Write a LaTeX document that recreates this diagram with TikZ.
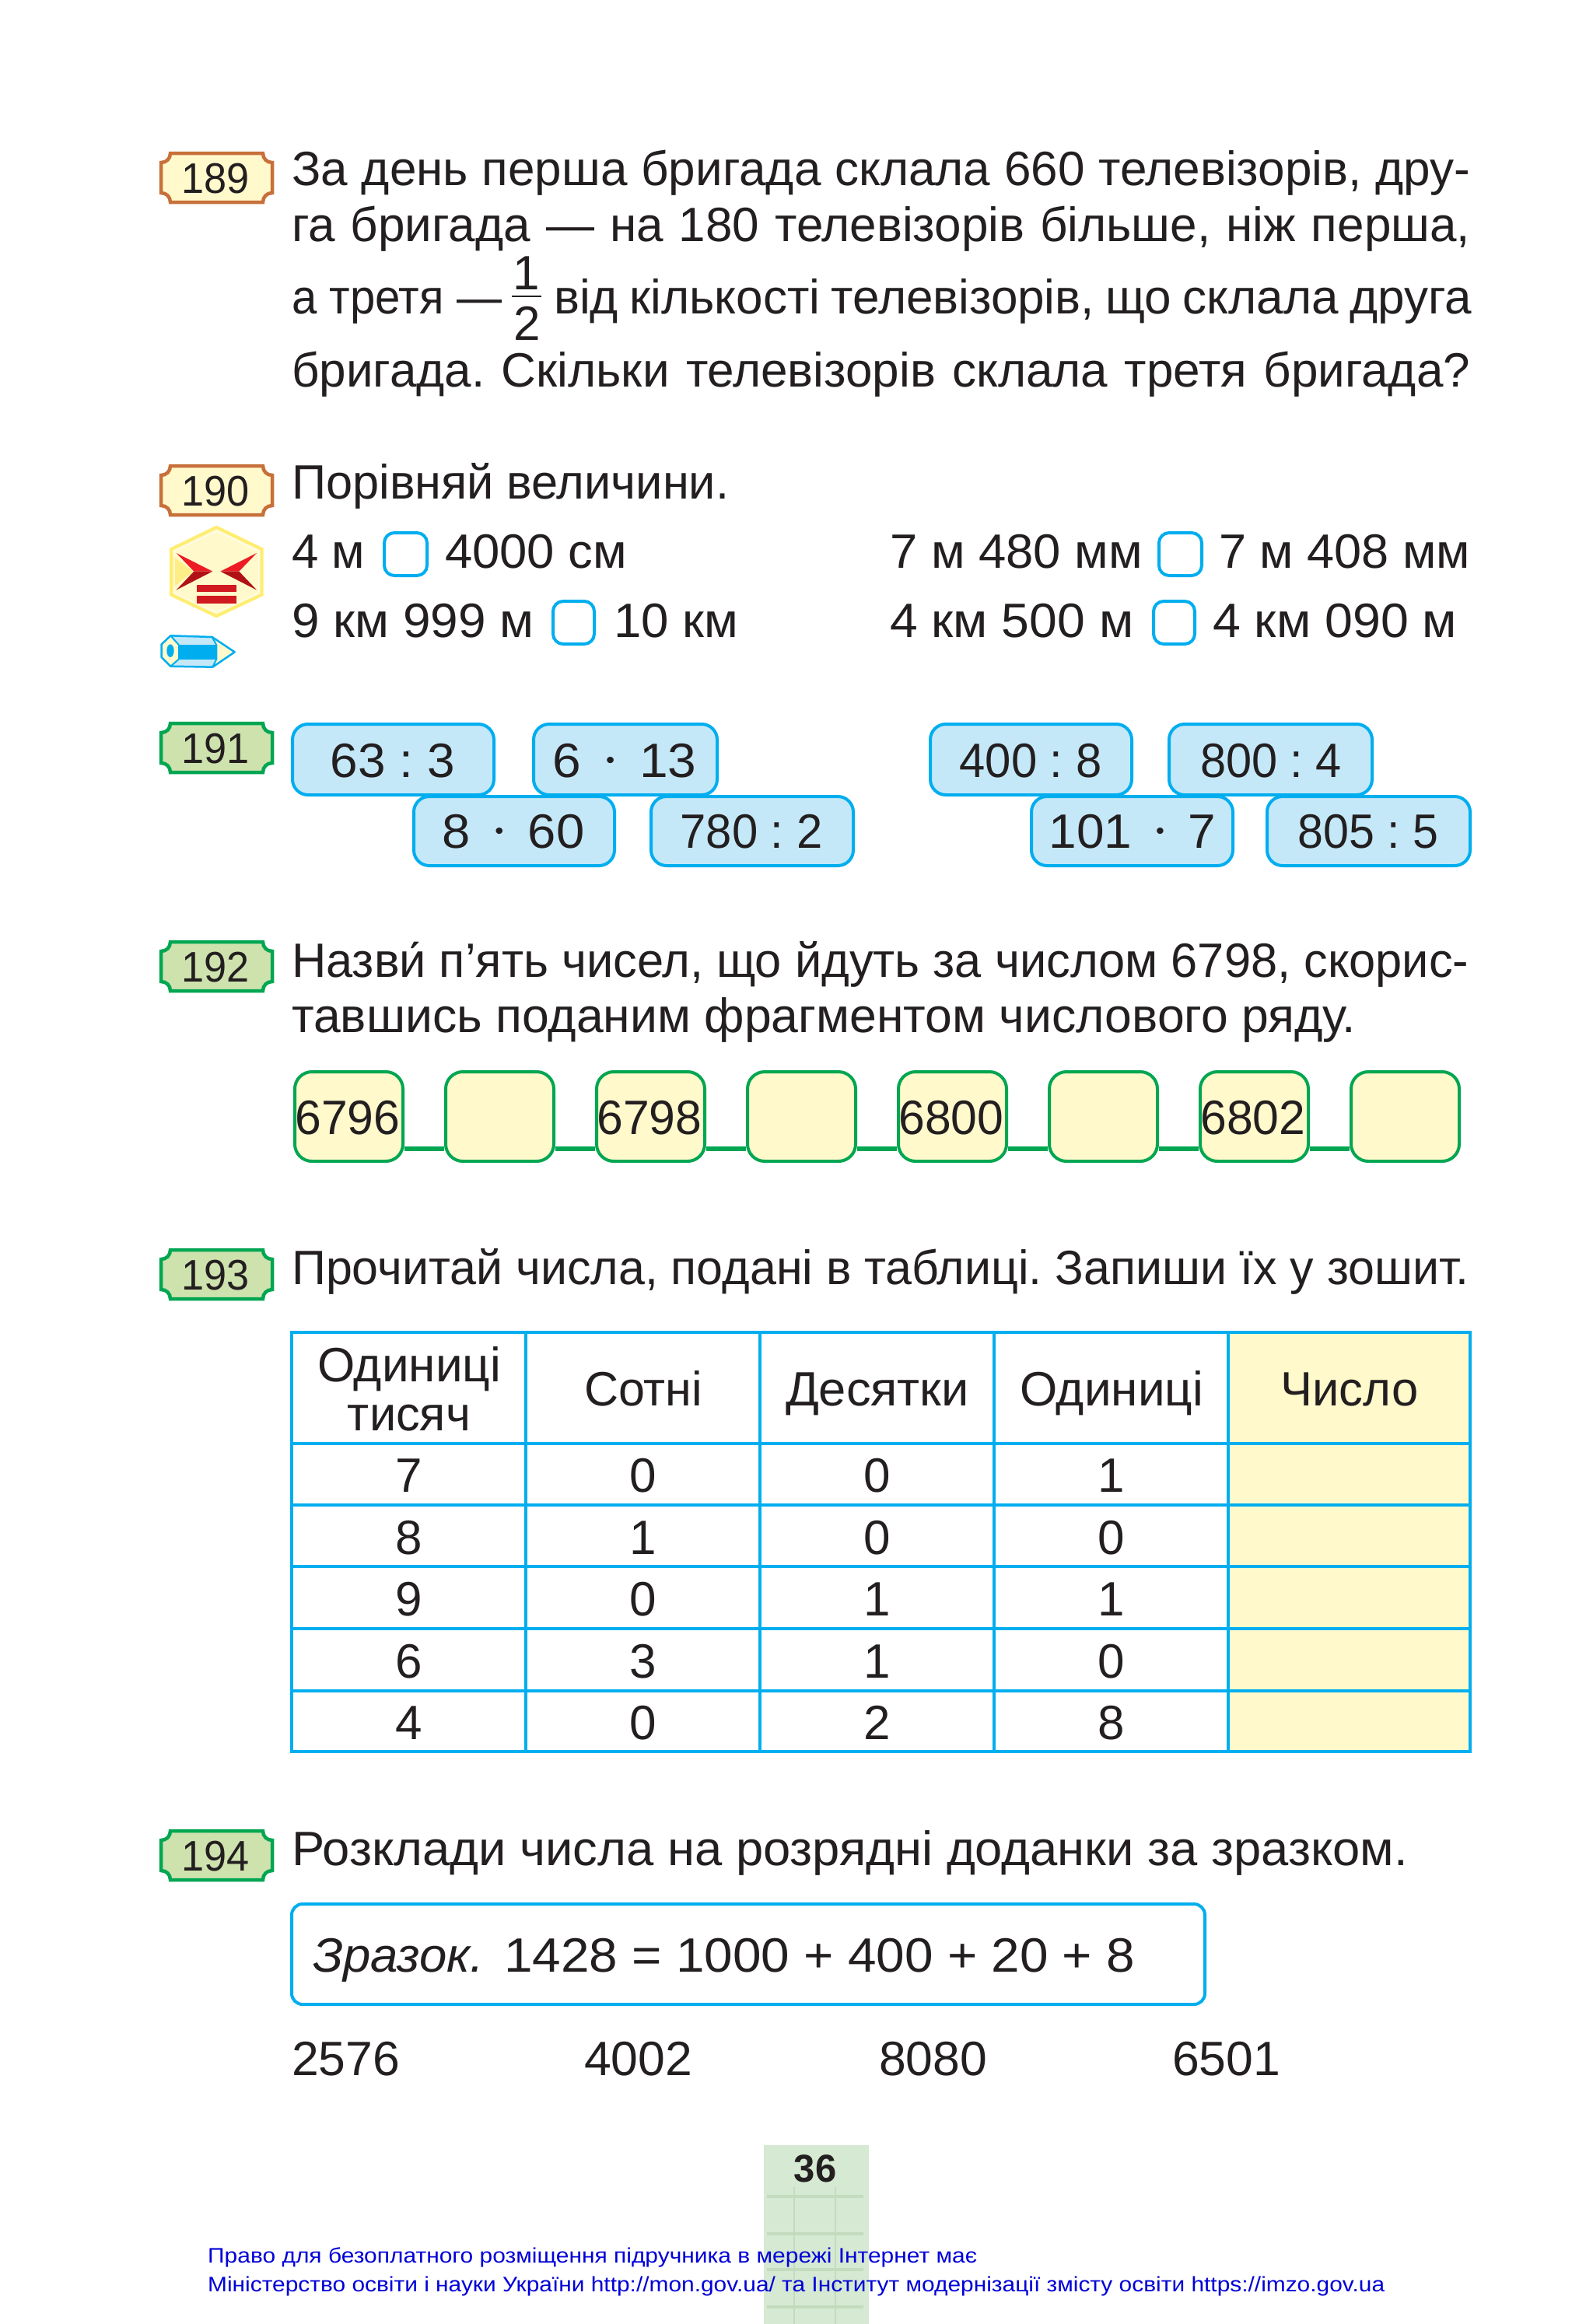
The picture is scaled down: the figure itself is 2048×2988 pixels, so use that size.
\documentclass[tikz,border=0pt]{standalone}
\usepackage{fontspec}
\usepackage{graphicx}
\setmainfont{Liberation Sans}
\frenchspacing
\definecolor{ink}{HTML}{231F20}
\definecolor{sky}{HTML}{00AEEF}
\definecolor{skyfill}{HTML}{C5E8F8}
\definecolor{paleyel}{HTML}{FFF9CC}
\definecolor{hexline}{HTML}{FFED70}
\definecolor{hexin}{HTML}{FFEE88}
\definecolor{redhi}{HTML}{ED1C24}
\definecolor{redlo}{HTML}{B01116}
\definecolor{redbar}{HTML}{D11920}
\definecolor{orng}{HTML}{C8703A}
\definecolor{grn}{HTML}{00A651}
\definecolor{grnfill}{HTML}{CEE2AE}
\definecolor{strip}{HTML}{D6E9D2}
\definecolor{stripline}{HTML}{C4DBBE}
\definecolor{linkblue}{HTML}{0000D8}
\newcommand\bodyfont{\fontsize{62}{70}\selectfont}
\newcommand\smallbody{\fontsize{27}{30}\selectfont}
% text fitted to a width
\newcommand\wt[2]{\resizebox{#1pt}{\height}{#2}}
\newcommand\jt[2]{\makebox[#1pt][s]{#2}}
\newcommand\T[5]{\node[txt] (#1) at (#2,#3) {\wt{#4}{#5}};}
\newcommand\J[5]{\node[txt] (#1) at (#2,#3) {\jt{#4}{#5}};}
\newcommand\C[4]{\node[ctxt] (#1) at (#2,#3) {#4};}
\newcommand\CW[5]{\node[ctxt] (#1) at (#2,#3) {\wt{#4}{#5}};}
\newcommand\dotb{\hspace{30pt}\raisebox{12pt}{\fontsize{30}{30}\selectfont •}\hspace{30pt}}
% badge: name, top y, border, fill, text
\newcommand\badge[5]{%
 \begin{scope}[shift={(207,#2+2)}]
 \draw[line width=4.5pt,draw=#3,fill=#4]
  (12,0) -- (131,0) .. controls (131,7) and (136,12) .. (143,12)
  -- (143,51) .. controls (136,51) and (131,56) .. (131,63)
  -- (12,63) .. controls (12,56) and (7,51) .. (0,51)
  -- (0,12) .. controls (7,12) and (12,7) .. (12,0) -- cycle;
 \node[ctxt,font=\fontsize{55}{55}\selectfont] (#1) at (70,51.5) {\scalebox{.95}[1]{#5}};
 \end{scope}}
\tikzset{
 txt/.style={anchor=base west,inner sep=0pt,font=\bodyfont,text=ink},
 ctxt/.style={anchor=base,inner sep=0pt,font=\bodyfont,text=ink},
 pill/.style={line width=4pt,draw=sky,fill=skyfill,rounded corners=20pt},
 qbox/.style={line width=4pt,draw=sky,fill=white,rounded corners=13pt},
 chainbox/.style={rectangle,line width=4pt,draw=grn,fill=paleyel,rounded corners=22pt,
   minimum width=139pt,minimum height=115pt,inner sep=0pt,anchor=north west},
 chainlink/.style={line width=6pt,draw=grn},
 grid/.style={line width=3.5pt,draw=sky},
 footnote/.style={anchor=base west,inner sep=0pt,font=\smallbody,text=linkblue},
}
\begin{document}
\begin{tikzpicture}[x=1pt,y=-1pt]
\fill[white] (0,0) rectangle (2048,2988);
\useasboundingbox (0,0) rectangle (2048,2988);

% ---------- 189
\badge{b189}{195}{orng}{paleyel}{189}
\J{l1a}{375}{238}{1515}{За день перша бригада склала 660 телевізорів, дру-}
\J{l1b}{375}{310}{1515}{га бригада — на 180 телевізорів більше, ніж перша,}
\T{l1c}{375}{403}{270}{а третя —}
\C{fn}{677}{372}{1}
\draw[line width=2.5pt,draw=ink] (658,381) -- (696,381);
\C{fd}{678}{437}{2}
\J{l1d}{712}{403}{1180}{від кількості телевізорів, що склала друга}
\J{l1e}{375}{497}{1515}{бригада. Скільки телевізорів склала третя бригада?}

% ---------- 190
\badge{b190}{597}{orng}{paleyel}{190}
\T{l2a}{375}{641}{562}{Порівняй величини.}
\T{c1}{375}{730}{94}{4 м}
\draw[qbox] (494,685) rectangle (549,740);
\T{c2}{572}{730}{234}{4000 см}
\T{c3}{1144}{730}{325}{7 м 480 мм}
\draw[qbox] (1490,685) rectangle (1545,740);
\T{c4}{1567}{730}{323}{7 м 408 мм}
\T{c5}{375}{819}{311}{9 км 999 м}
\draw[qbox] (711,773) rectangle (764,828);
\T{c6}{789}{819}{160}{10 км}
\T{c7}{1144}{819}{313}{4 км 500 м}
\draw[qbox] (1483,773) rectangle (1536,828);
\T{c8}{1559}{819}{314}{4 км 090 м}

% hexagon icon
\begin{scope}[shift={(180,580)},xscale=1/3,yscale=1/2.8]
 \draw[line width=4pt,draw=hexline,fill=paleyel]
  (295,274) -- (470,353) -- (470,517) -- (295,594) -- (120,517) -- (120,353) -- cycle;
 \fill[hexin] (130,380) -- (205,433) -- (130,490) -- cycle;
 \draw[line width=1pt,draw=white!70!paleyel] (295,288) -- (458,360) -- (458,510) -- (295,582) -- (132,510) -- (132,360) -- cycle;
 \fill[redhi] (140,367) -- (280,433) -- (208,433) -- cycle;
 \fill[redlo] (140,500) -- (280,433) -- (208,433) -- cycle;
 \fill[redhi] (450,367) -- (310,433) -- (382,433) -- cycle;
 \fill[redlo] (450,500) -- (310,433) -- (382,433) -- cycle;
 \fill[redbar] (218,482) rectangle (373,508);
 \fill[redbar] (218,522) rectangle (373,548);
\end{scope}
% pencil icon
\begin{scope}[shift={(190,790)},scale=1/3]
 \fill[paleyel] (53,115) -- (88,82) -- (120,118) -- (120,172) -- (88,200) -- (53,165) -- cycle;
 \fill[skyfill] (88,82) -- (248,87) -- (265,118) -- (120,118) -- cycle;
 \fill[skyfill] (88,200) -- (250,203) -- (265,172) -- (120,172) -- cycle;
 \fill[sky] (120,116) rectangle (265,174);
 \fill[paleyel] (248,87) -- (335,145) -- (250,203) -- (265,172) -- (265,118) -- cycle;
 \draw[line width=2.5pt,draw=sky,line join=round]
  (53,115) -- (88,82) -- (248,87) -- (335,145) -- (250,203) -- (88,200) -- (53,165) -- cycle;
 \draw[line width=2pt,draw=sky] (88,82) -- (120,118) -- (120,172) -- (88,200);
 \draw[line width=2pt,draw=sky] (248,87) -- (265,118) -- (265,172) -- (250,203);
 \fill[sky] (87,140) ellipse (14 and 25);
\end{scope}

% ---------- 191
\badge{b191}{928}{grn}{grnfill}{191}
\draw[pill] (376,931) rectangle (635,1022);
\draw[pill] (686,931) rectangle (922,1022);
\draw[pill] (1196,931) rectangle (1455,1022);
\draw[pill] (1503,931) rectangle (1764,1022);
\draw[pill] (532,1024) rectangle (790,1113);
\draw[pill] (837,1024) rectangle (1097,1113);
\draw[pill] (1326,1024) rectangle (1585,1113);
\draw[pill] (1629,1024) rectangle (1890,1113);
\CW{p1}{505}{999}{160}{63 : 3}
\CW{p2}{803}{999}{185}{6\dotb 13}
\CW{p3}{1325}{999}{183}{400 : 8}
\CW{p4}{1634}{999}{182}{800 : 4}
\CW{p5}{660}{1090}{183}{8\dotb 60}
\CW{p6}{966}{1090}{183}{780 : 2}
\CW{p7}{1456}{1090}{215}{101\dotb 7}
\CW{p8}{1759}{1090}{181}{805 : 5}

% ---------- 192
\badge{b192}{1209}{grn}{grnfill}{192}
\T{l4a}{375}{1256}{1513}{Назви́ п’ять чисел, що йдуть за числом 6798, скорис-}
\T{l4b}{375}{1327}{1368}{тавшись поданим фрагментом числового ряду.}
\coordinate (linky) at (0,1477);
\node[chainbox] (s1) at (377,1376) {};
\node[chainbox] (s2) at (571,1376) {};
\node[chainbox] (s3) at (765,1376) {};
\node[chainbox] (s4) at (959,1376) {};
\node[chainbox] (s5) at (1153,1376) {};
\node[chainbox] (s6) at (1347,1376) {};
\node[chainbox] (s7) at (1541,1376) {};
\node[chainbox] (s8) at (1735,1376) {};
\draw[chainlink] (s1.east |- linky) -- (s2.west |- linky);
\draw[chainlink] (s2.east |- linky) -- (s3.west |- linky);
\draw[chainlink] (s3.east |- linky) -- (s4.west |- linky);
\draw[chainlink] (s4.east |- linky) -- (s5.west |- linky);
\draw[chainlink] (s5.east |- linky) -- (s6.west |- linky);
\draw[chainlink] (s6.east |- linky) -- (s7.west |- linky);
\draw[chainlink] (s7.east |- linky) -- (s8.west |- linky);
\CW{n1}{447}{1458}{135}{6796}
\CW{n3}{835}{1458}{135}{6798}
\CW{n5}{1223}{1458}{135}{6800}
\CW{n7}{1611}{1458}{135}{6802}

% ---------- 193
\badge{b193}{1605}{grn}{grnfill}{193}
\T{l5}{375}{1651}{1513}{Прочитай числа, подані в таблиці. Запиши їх у зошит.}
\fill[paleyel] (1579,1713) rectangle (1890,2252);
\foreach \yy in {1713,1856,1935,2014,2094,2174,2252}
  \draw[grid] (375,\yy) -- (1890,\yy);
\foreach \xx in {375,676,977,1278,1579,1890}
  \draw[grid] (\xx,1711) -- (\xx,2254);
\CW{h1a}{526}{1776}{236}{Одиниці}
\CW{h1b}{526}{1839}{158}{тисяч}
\CW{h2}{827}{1807}{152}{Сотні}
\CW{h3}{1128}{1807}{236}{Десятки}
\CW{h4}{1429}{1807}{236}{Одиниці}
\CW{h5}{1735}{1807}{177}{Число}
\C{a1}{526}{1918}{7}\C{a2}{827}{1918}{0}\C{a3}{1128}{1918}{0}\C{a4}{1429}{1918}{1}
\C{b1}{526}{1998}{8}\C{b2}{827}{1998}{1}\C{b3}{1128}{1998}{0}\C{b4}{1429}{1998}{0}
\C{d1}{526}{2077}{9}\C{d2}{827}{2077}{0}\C{d3}{1128}{2077}{1}\C{d4}{1429}{2077}{1}
\C{e1}{526}{2157}{6}\C{e2}{827}{2157}{3}\C{e3}{1128}{2157}{1}\C{e4}{1429}{2157}{0}
\C{f1}{526}{2236}{4}\C{f2}{827}{2236}{0}\C{f3}{1128}{2236}{2}\C{f4}{1429}{2236}{8}

% ---------- 194
\badge{b194}{2352}{grn}{grnfill}{194}
\T{l6}{375}{2398}{1435}{Розклади числа на розрядні доданки за зразком.}
\draw[line width=4pt,draw=sky,fill=white,rounded corners=14pt] (375,2448) rectangle (1549,2577);
\T{z1}{402}{2535}{220}{\itshape Зразок.}
\T{z2}{648}{2535}{811}{1428 = 1000 + 400 + 20 + 8}
\T{m1}{375}{2668}{139}{2576}
\T{m2}{751}{2668}{139}{4002}
\T{m3}{1130}{2668}{139}{8080}
\T{m4}{1507}{2668}{139}{6501}

% ---------- footer
\fill[strip] (982,2758) rectangle (1117,2988);
\foreach \yy in {2824,2872,2918,2966}
  \draw[line width=4pt,draw=stripline] (986,\yy) -- (1110,\yy);
\foreach \xx in {1021,1074}
  \draw[line width=2pt,draw=stripline] (\xx,2812) -- (\xx,2988);
\node[ctxt,font=\fontsize{50}{50}\bfseries\selectfont] (pg) at (1048,2805) {\scalebox{.98}[1]{36}};
\node[footnote] (f1) at (267,2909) {\wt{989}{Право для безоплатного розміщення підручника в мережі Інтернет має}};
\node[footnote] (f2) at (267,2946) {\wt{1513}{Міністерство освіти і науки України http://mon.gov.ua/ та Інститут модернізації змісту освіти https://imzo.gov.ua}};
\end{tikzpicture}
\end{document}
